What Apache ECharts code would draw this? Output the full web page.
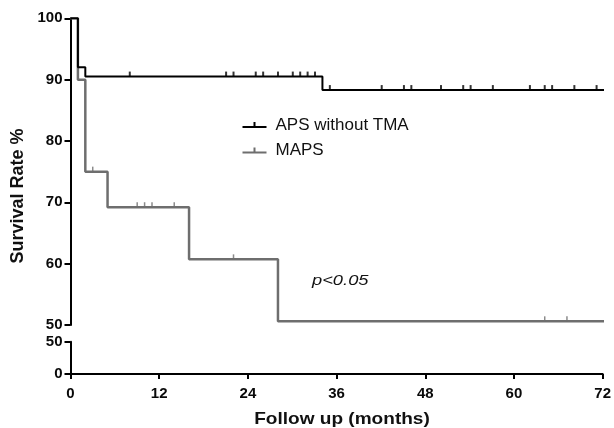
<!DOCTYPE html>
<html>
<head>
<meta charset="utf-8">
<script src="https://cdn.jsdelivr.net/npm/echarts@6/dist/echarts.min.js"></script>
<style>
  html, body { margin: 0; padding: 0; background: #fff; }
  #chart { width: 614px; height: 428px; }
</style>
</head>
<body>
<div id="chart"></div>
<script>
// Kaplan-Meier step points (time in months, survival %)
const apsTimes = [0, 1, 2, 34, 72];
const apsSurv = [100, 92, 90.5, 88.3, 88.3];
const apsCensor = [8, 21, 22, 25, 26, 28, 30, 31, 32, 33, 35, 42, 45, 46, 50, 53, 54, 57, 62, 64, 65, 68, 71];

const mapsTimes = [0, 1, 2, 5, 16, 28, 72];
const mapsSurv = [100, 90, 75, 69.2, 60.7, 50.6, 50.6];
const mapsCensor = [3, 9, 10, 11, 14, 22, 64, 67];

const xTicks = [0, 12, 24, 36, 48, 60, 72];
const seriesNames = ['APS without TMA', 'MAPS'];

const FONT = '"Liberation Sans", Arial, Helvetica, sans-serif';
const BLACK = '#000000';
const GRAY = '#6e6e6e';

function stepPairs(times, surv) {
  return times.map((t, i) => [t, surv[i]]);
}
function survAt(times, surv, t) {
  let v = surv[0];
  for (let i = 0; i < times.length; i++) { if (times[i] <= t) v = surv[i]; }
  return v;
}
function censorPairs(times, surv, cens) {
  return cens.map(t => [t, survAt(times, surv, t)]);
}

const chart = echarts.init(document.getElementById('chart'), null, { renderer: 'canvas' });

const axisLabelStyle = { color: '#0a0a0a', fontFamily: FONT, fontWeight: 'bold', fontSize: 15 };
const tickIconPath = 'path://M0,6H24V8H0Z M11,2H13V6H11Z';

const option = {
  animation: false,
  backgroundColor: '#fff',
  grid: [
    { left: 70.5, right: 10, top: 18.3, bottom: 103 },
    { left: 70.5, right: 10, top: 341.7, bottom: 54 }
  ],
  xAxis: [
    { gridIndex: 0, type: 'value', min: 0, max: 72, interval: 12, show: false },
    {
      gridIndex: 1, type: 'value', min: 0, max: 72, interval: 12,
      axisLine: { show: true, onZero: false, lineStyle: { color: BLACK, width: 2 } },
      axisTick: { show: true, length: 5, lineStyle: { color: BLACK, width: 2 } },
      axisLabel: Object.assign({ margin: 12, formatter: v => (xTicks.indexOf(v) >= 0 ? String(v) : '') }, axisLabelStyle),
      splitLine: { show: false }
    }
  ],
  yAxis: [
    {
      gridIndex: 0, type: 'value', min: 50, max: 100, interval: 10,
      axisLine: { show: true, lineStyle: { color: BLACK, width: 2 } },
      axisTick: { show: true, length: 6, lineStyle: { color: BLACK, width: 2 } },
      axisLabel: Object.assign({ margin: 8 }, axisLabelStyle),
      splitLine: { show: false }
    },
    {
      gridIndex: 1, type: 'value', min: 0, max: 50, interval: 50,
      axisLine: { show: true, lineStyle: { color: BLACK, width: 2 } },
      axisTick: { show: true, length: 6, lineStyle: { color: BLACK, width: 2 } },
      axisLabel: Object.assign({ margin: 8 }, axisLabelStyle),
      splitLine: { show: false }
    }
  ],
  legend: {
    orient: 'vertical',
    left: 237.5,
    top: 111.5,
    itemWidth: 24,
    itemHeight: 6,
    itemGap: 8.5,
    data: [
      { name: seriesNames[0], icon: tickIconPath, itemStyle: { color: BLACK } },
      { name: seriesNames[1], icon: tickIconPath, itemStyle: { color: GRAY } }
    ],
    textStyle: { fontFamily: FONT, fontSize: 17, color: '#111', padding: [0, 0, 0, 4], lineHeight: 17 }
  },
  graphic: [
    {
      type: 'text', x: 18, y: 196, rotation: Math.PI / 2,
      style: { text: 'Survival Rate %', font: 'bold 18px ' + FONT, fill: '#111', textAlign: 'center', textVerticalAlign: 'middle' }
    },
    {
      type: 'text', x: 342, y: 419, scaleX: 1.12,
      style: { text: 'Follow up (months)', font: 'bold 17px ' + FONT, fill: '#111', textAlign: 'center', textVerticalAlign: 'middle' }
    },
    {
      type: 'text', x: 312, y: 281, scaleX: 1.22,
      style: { text: 'p<0.05', font: 'italic 15px ' + FONT, fill: '#111', textAlign: 'left', textVerticalAlign: 'middle' }
    }
  ],
  series: [
    {
      name: seriesNames[1], type: 'line', xAxisIndex: 0, yAxisIndex: 0, step: 'end',
      showSymbol: false, symbol: 'none', z: 2,
      lineStyle: { color: GRAY, width: 2.5 }, itemStyle: { color: GRAY },
      data: stepPairs(mapsTimes, mapsSurv)
    },
    {
      name: seriesNames[0], type: 'line', xAxisIndex: 0, yAxisIndex: 0, step: 'end',
      showSymbol: false, symbol: 'none', z: 3,
      lineStyle: { color: BLACK, width: 2 }, itemStyle: { color: BLACK },
      data: stepPairs(apsTimes, apsSurv)
    },
    {
      name: seriesNames[1] + ' censored', type: 'scatter', xAxisIndex: 0, yAxisIndex: 0,
      symbol: 'rect', symbolSize: [1.5, 5], symbolOffset: [0, -2.5], z: 4,
      itemStyle: { color: GRAY }, silent: true,
      data: censorPairs(mapsTimes, mapsSurv, mapsCensor)
    },
    {
      name: seriesNames[0] + ' censored', type: 'scatter', xAxisIndex: 0, yAxisIndex: 0,
      symbol: 'rect', symbolSize: [2, 5], symbolOffset: [0, -2.5], z: 5,
      itemStyle: { color: BLACK }, silent: true,
      data: censorPairs(apsTimes, apsSurv, apsCensor)
    }
  ]
};

chart.setOption(option);
</script>
</body>
</html>
